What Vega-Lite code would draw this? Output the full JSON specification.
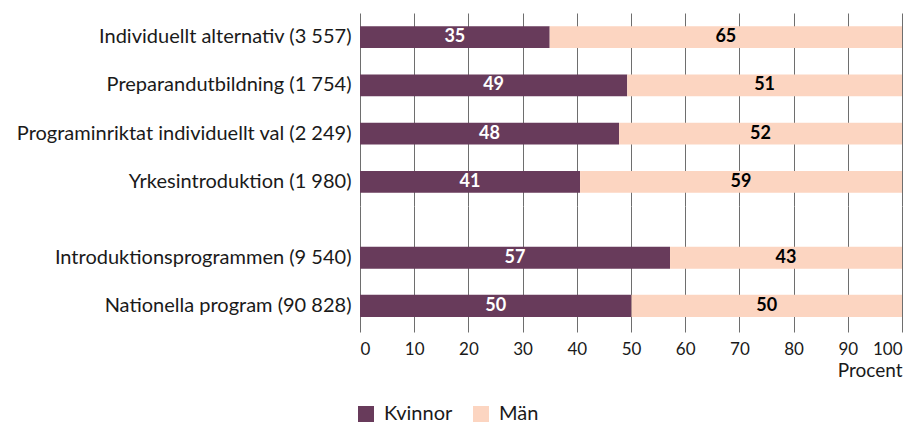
{
  "$schema": "https://vega.github.io/schema/vega-lite/v6.json",
  "padding": {"left": 15, "top": 13, "right": 5, "bottom": 10},
  "background": "white",
  "spacing": 0,
  "bounds": "flush",
  "config": {
    "font": "Lato",
    "view": {"stroke": null},
    "axis": {"labelFont": "Lato", "labelColor": "#1a1a1a", "titleColor": "#1a1a1a", "gridColor": "#6e6e6e", "gridWidth": 1, "gridOpacity": 1}
  },
  "resolve": {"scale": {"color": "shared", "x": "shared"}},
  "datasets": {
    "top": [
      {"cat": "Individuellt alternativ (3 557)", "group": "Kvinnor", "pct": 35.0},
      {"cat": "Individuellt alternativ (3 557)", "group": "Män", "pct": 65.0},
      {"cat": "Preparandutbildning (1 754)", "group": "Kvinnor", "pct": 49.3},
      {"cat": "Preparandutbildning (1 754)", "group": "Män", "pct": 50.7},
      {"cat": "Programinriktat individuellt val (2 249)", "group": "Kvinnor", "pct": 47.8},
      {"cat": "Programinriktat individuellt val (2 249)", "group": "Män", "pct": 52.2},
      {"cat": "Yrkesintroduktion (1 980)", "group": "Kvinnor", "pct": 40.6},
      {"cat": "Yrkesintroduktion (1 980)", "group": "Män", "pct": 59.4}
    ],
    "bottom": [
      {"cat": "Introduktionsprogrammen (9 540)", "group": "Kvinnor", "pct": 57.2},
      {"cat": "Introduktionsprogrammen (9 540)", "group": "Män", "pct": 42.8},
      {"cat": "Nationella program (90 828)", "group": "Kvinnor", "pct": 50.1},
      {"cat": "Nationella program (90 828)", "group": "Män", "pct": 49.9}
    ]
  },
  "vconcat": [
    {
      "width": 542,
      "height": 193,
      "data": {"name": "top"},
      "transform": [
        {"stack": "pct", "groupby": ["cat"], "sort": [{"field": "group", "order": "ascending"}], "as": ["x0", "x1"]},
        {"calculate": "(datum.x0 + datum.x1) / 2", "as": "mid"}
      ],
      "encoding": {
        "y": {
          "field": "cat", "type": "nominal", "sort": null, "title": null,
          "scale": {"paddingInner": 0.545, "paddingOuter": 0.2725},
          "axis": {"ticks": false, "domain": false, "labelPadding": 9, "labelFontSize": 20, "labelLimit": 0}
        }
      },
      "layer": [
        {
          "mark": {"type": "bar"},
          "encoding": {
            "x": {
              "field": "x0", "type": "quantitative", "scale": {"domain": [0, 100]}, "title": null,
              "axis": {"values": [0, 10, 20, 30, 40, 50, 60, 70, 80, 90, 100], "labels": false, "ticks": false, "domain": false, "grid": true}
            },
            "x2": {"field": "x1"},
            "color": {
              "field": "group", "type": "nominal",
              "scale": {"domain": ["Kvinnor", "Män"], "range": ["#683b5b", "#fcd5c1"]},
              "legend": {"orient": "none", "legendX": -4, "legendY": 391, "direction": "horizontal", "title": null, "symbolType": "square", "symbolSize": 256, "symbolStrokeWidth": 0, "labelFontSize": 20, "labelOffset": 8, "columnPadding": 18, "labelColor": "#1a1a1a"}
            }
          }
        },
        {
          "mark": {"type": "text", "fontSize": 18, "fontWeight": "bold", "baseline": "middle", "align": "center"},
          "encoding": {
            "x": {"field": "mid", "type": "quantitative"},
            "text": {"field": "pct", "type": "quantitative", "format": ".0f"},
            "color": {"condition": {"test": "datum.group === 'Kvinnor'", "value": "white"}, "value": "black"}
          }
        }
      ]
    },
    {
      "width": 542,
      "height": 126,
      "data": {"name": "bottom"},
      "transform": [
        {"stack": "pct", "groupby": ["cat"], "sort": [{"field": "group", "order": "ascending"}], "as": ["x0", "x1"]},
        {"calculate": "(datum.x0 + datum.x1) / 2", "as": "mid"}
      ],
      "encoding": {
        "y": {
          "field": "cat", "type": "nominal", "sort": null, "title": null,
          "scale": {"paddingInner": 0.5417, "paddingOuter": 0.58, "align": 0.73},
          "axis": {"ticks": false, "domain": false, "labelPadding": 9, "labelFontSize": 20, "labelLimit": 0}
        }
      },
      "layer": [
        {
          "mark": {"type": "bar"},
          "encoding": {
            "x": {
              "field": "x0", "type": "quantitative", "scale": {"domain": [0, 100]}, "title": "Procent",
              "axis": {"values": [0, 10, 20, 30, 40, 50, 60, 70, 80, 90, 100], "ticks": false, "tickSize": 0, "domain": false, "grid": true, "labelPadding": 9, "labelFontSize": 17, "titleFontSize": 19, "titleFontWeight": "normal", "titleAnchor": "end", "titlePadding": 4}
            },
            "x2": {"field": "x1"},
            "color": {
              "field": "group", "type": "nominal",
              "scale": {"domain": ["Kvinnor", "Män"], "range": ["#683b5b", "#fcd5c1"]},
              "legend": {"orient": "none", "legendX": -4, "legendY": 391, "direction": "horizontal", "title": null, "symbolType": "square", "symbolSize": 256, "symbolStrokeWidth": 0, "labelFontSize": 20, "labelOffset": 8, "columnPadding": 18, "labelColor": "#1a1a1a"}
            }
          }
        },
        {
          "mark": {"type": "text", "fontSize": 18, "fontWeight": "bold", "baseline": "middle", "align": "center"},
          "encoding": {
            "x": {"field": "mid", "type": "quantitative"},
            "text": {"field": "pct", "type": "quantitative", "format": ".0f"},
            "color": {"condition": {"test": "datum.group === 'Kvinnor'", "value": "white"}, "value": "black"}
          }
        }
      ]
    }
  ]
}
